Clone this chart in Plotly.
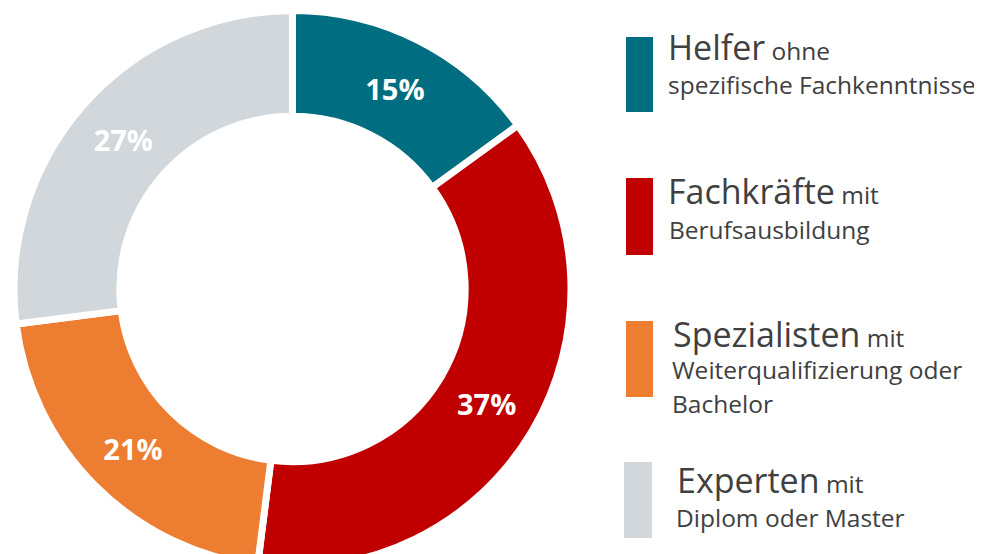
import plotly.graph_objects as go

# ---- data ----
categories = ["Helfer", "Fachkräfte", "Spezialisten", "Experten"]
qualifiers = ["ohne", "mit", "mit", "mit"]
descriptions = [
    ["spezifische Fachkenntnisse"],
    ["Berufsausbildung"],
    ["Weiterqualifizierung oder", "Bachelor"],
    ["Diplom oder Master"],
]
shares = [15, 37, 21, 27]
colors = ["#006E80", "#C00000", "#ED7D31", "#D1D7DB"]

# ---- layout helpers (screen pixels; page body has an 8px margin) ----
W, H = 974, 562
OFF = 8
FONT = "Open Sans"
TXT = "#404040"
ASC = 1.069  # Open Sans ascent ratio


def px(x):
    return (x - OFF) / W


def py(y):
    return 1 - (y - OFF) / H


# donut geometry on screen
CX, CY, R = 292.5, 289, 278.5

fig = go.Figure()
fig.add_trace(go.Pie(
    labels=categories,
    values=shares,
    sort=False,
    direction="clockwise",
    rotation=0,
    hole=0.62,
    marker=dict(colors=colors, line=dict(color="white", width=7)),
    texttemplate="%{value}%",
    textposition="inside",
    insidetextorientation="horizontal",
    textfont=dict(family=FONT, size=29, color="white", weight="bold"),
    domain=dict(x=[px(CX - R), px(CX + R)], y=[py(CY + R), py(CY - R)]),
    showlegend=False,
    hoverinfo="label+percent",
))

# legend geometry (screen pixels)
rects = [(626, 37, 653, 112), (626, 178, 653, 255), (626, 321, 653, 397), (624, 462, 652, 538)]
head_base = [60, 204, 347, 493]
head_x = [668, 668, 673, 677]
desc_base = [[94], [239], [379, 413], [527]]
desc_x = [668, 669, 672, 676]
BIG, SMALL = 34, 24.5

shapes = []
annotations = []
for i, cat in enumerate(categories):
    x0, y0, x1, y1 = rects[i]
    shapes.append(dict(type="rect", xref="paper", yref="paper",
                       x0=px(x0), x1=px(x1), y0=py(y1), y1=py(y0),
                       fillcolor=colors[i], line=dict(width=0)))
    annotations.append(dict(
        xref="paper", yref="paper", x=px(head_x[i]), y=py(head_base[i] - ASC * BIG),
        xanchor="left", yanchor="top", showarrow=False, borderpad=0, borderwidth=0,
        text=f"<span style='font-size:{BIG}px'>{cat}</span> {qualifiers[i]}",
        font=dict(family=FONT, size=SMALL, color=TXT)))
    for line, base in zip(descriptions[i], desc_base[i]):
        annotations.append(dict(
            xref="paper", yref="paper", x=px(desc_x[i]), y=py(base - ASC * SMALL),
            xanchor="left", yanchor="top", showarrow=False, borderpad=0, borderwidth=0,
            text=line, font=dict(family=FONT, size=SMALL, color=TXT)))

fig.update_layout(
    width=W, height=H,
    margin=dict(l=0, r=0, t=0, b=0),
    paper_bgcolor="white", plot_bgcolor="white",
    shapes=shapes, annotations=annotations,
)

fig.write_html("out.html")
